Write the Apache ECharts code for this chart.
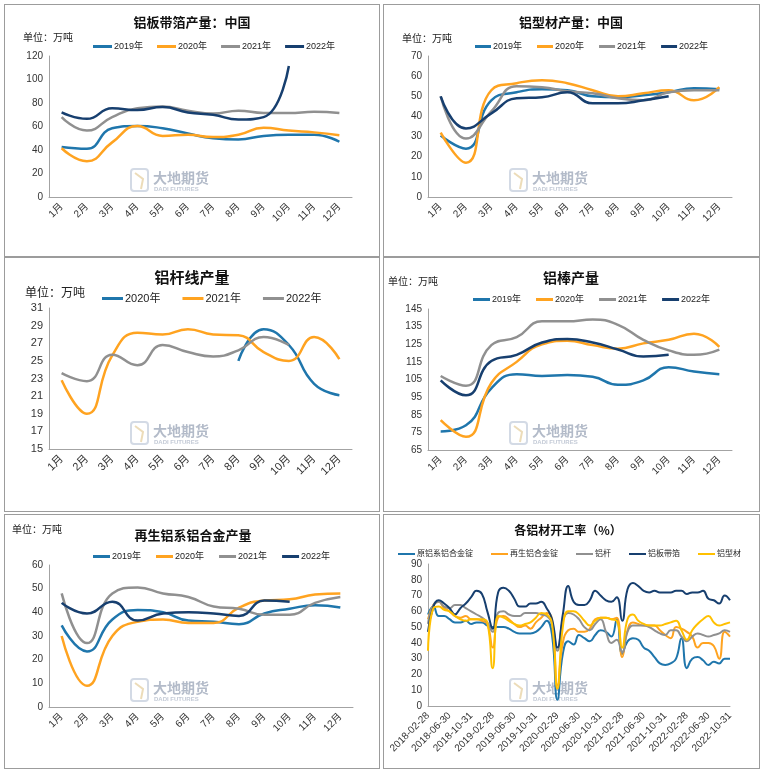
<!DOCTYPE html>
<html><head><meta charset="utf-8">
<script src="https://cdn.jsdelivr.net/npm/echarts@6/dist/echarts.min.js"></script>
<style>
html,body{margin:0;padding:0;background:#fff;}
body{width:763px;height:774px;position:relative;overflow:hidden;}
.p{position:absolute;box-sizing:border-box;border:1px solid #9c9c9c;}
</style></head><body>
<div id="p1" class="p" style="left:4px;top:4px;width:376px;height:253px"></div>
<div id="p2" class="p" style="left:383px;top:4px;width:377px;height:253px"></div>
<div id="p3" class="p" style="left:4px;top:257px;width:376px;height:255px"></div>
<div id="p4" class="p" style="left:383px;top:257px;width:377px;height:255px"></div>
<div id="p5" class="p" style="left:4px;top:514px;width:376px;height:255px"></div>
<div id="p6" class="p" style="left:383px;top:514px;width:377px;height:255px"></div>
<script>
// ---------- categories ----------
const months = ['1月','2月','3月','4月','5月','6月','7月','8月','9月','10月','11月','12月'];
const dates = ['2018-02-28','2018-03-31','2018-04-30','2018-05-31','2018-06-30','2018-07-31','2018-08-31','2018-09-30','2018-10-31','2018-11-30','2018-12-31',
'2019-01-31','2019-02-28','2019-03-31','2019-04-30','2019-05-31','2019-06-30','2019-07-31','2019-08-31','2019-09-30','2019-10-31','2019-11-30','2019-12-31',
'2020-01-31','2020-02-29','2020-03-31','2020-04-30','2020-05-31','2020-06-30','2020-07-31','2020-08-31','2020-09-30','2020-10-31','2020-11-30','2020-12-31',
'2021-01-31','2021-02-28','2021-03-31','2021-04-30','2021-05-31','2021-06-30','2021-07-31','2021-08-31','2021-09-30','2021-10-31','2021-11-30','2021-12-31',
'2022-01-31','2022-02-28','2022-03-31','2022-04-30','2022-05-31','2022-06-30','2022-07-31','2022-08-31','2022-09-30','2022-10-31'];

// ---------- 铝板带箔产量：中国 ----------
const plate2019 = [42.5,41,58.5,60.5,58.5,54,50,49,52,53,53,47];
const plate2020 = [41.5,30.5,46.5,60.5,52,53,51,53,59,56.5,55,52.5];
const plate2021 = [68,56.5,68,75.5,77,73.5,71,73.5,71.5,71.5,72.5,71.5];
const plate2022 = [72,66.5,75.5,74,76.5,72,70,66,68,111.5];

// ---------- 铝型材产量：中国 ----------
const profile2019 = [30.5,24,48,52,53.5,53,50,49.5,50.5,52,54,53.5];
const profile2020 = [32,17,53,56.5,58,56.5,53,50,51.5,53,48,54.5];
const profile2021 = [50,29,42.5,55,54.5,52.5,51.5,49,48,52,53,53];
const profile2022 = [50,34,41.5,49,49.5,52,46.5,46.5,48,50];

// ---------- 铝杆线产量 ----------
const rod2020 = [null,null,null,null,null,null,null,25,28.6,26.8,22.4,21.1];
const rod2021 = [22.8,19,25.6,28.2,28,28.6,28,27.9,26,25,27.7,25.2];
const rod2022 = [23.6,22.7,25.7,24.5,26.8,26,25.5,26.2,27.7,26.8];

// ---------- 铝棒产量 ----------
const bar2019 = [75.5,79,100,108,107,107.5,106.5,102,104.5,112,109.5,108];
const bar2020 = [82,72.5,103,115,125,127,124.5,122.5,125.5,127.5,131,123.5];
const bar2021 = [107,101.5,124.5,129,138,138,139,136,127.5,121.5,119,122];
const bar2022 = [104.5,96,115.5,119,126,128,126,122,118,119];

// ---------- 再生铝系铝合金产量 ----------
const sec2019 = [34.5,23.5,37,41,40,36.5,36,35,39.5,41.5,43,42];
const sec2020 = [30,9,30,36,37,35.5,35.5,42,45,45.5,47.5,48];
const sec2021 = [48,27,48,50.5,48,46.5,42.5,41.5,39,39,44,46.5];
const sec2022 = [44,39.5,44.5,36.5,39.5,40,39.5,38.5,45,44.5];

// ---------- 各铝材开工率（%） ----------
const rateAlloy = [58,63,57,57,55,53,53,54,52,53,53,51,50,50,50,49,47,46,46,46,47,50,54,45,4,33,41,39,45,43,41,45,48,47,44,55,33,41,43,42,37,35,31,27,26,27,30,43,24,30,31,29,26,28,27,30,30];
const rateSecondary = [55,64,66,62,60,57,56,57,55,55,54,52,37,56,57,55,52,50,51,49,53,56,59,55,13,40,48,49,47,47,49,55,56,56,55,56,31,48,53,52,51,51,51,48,45,43,50,49,47,44,37,40,40,38,30,47,44];
const rateRod = [52,64,66,63,62,64,64,62,60,58,56,53,47,59,60,58,57,57,59,59,59,58,57,52,35,54,59,58,55,50,48,52,55,47,40,42,34,47,51,51,51,50,48,46,45,48,48,44,41,44,46,45,44,45,46,48,47];
const ratePlate = [47,63,67,65,62,58,62,65,69,73,71,60,49,72,75,73,68,63,63,65,65,66,62,55,37,58,76,66,64,64,67,73,70,67,66,69,54,74,78,76,73,72,73,72,72,72,73,73,71,72,72,73,68,67,65,70,67];
const rateProfile = [35,62,63,61,60,57,55,54,55,55,55,53,24,57,56,54,52,51,52,53,56,59,58,52,11,50,60,60,58,54,51,54,56,56,55,54,37,55,58,54,52,51,51,51,52,53,54,48,42,48,52,55,57,53,51,52,53];

const yearNames4 = ['2019年','2020年','2021年','2022年'];
const yearNames3 = ['2020年','2021年','2022年'];
const rateNames = ['原铝系铝合金锭','再生铝合金锭','铝杆','铝板带箔','铝型材'];

// ---------- styling ----------
const LAT = "'Liberation Sans','Noto Sans CJK SC',sans-serif";
const CJK = "'Noto Sans CJK SC','Liberation Sans',sans-serif";
const C = {blue:'#1F76AC', orange:'#FFA320', gray:'#909090', navy:'#173F6F', yellow:'#FFC000'};
const AX = '#A3A3A3';
const LBL = '#333';

function watermark(){
  return [
    {type:'rect', silent:true, shape:{x:126,y:164,width:17,height:22,r:3}, style:{fill:'none',stroke:'#d3dae5',lineWidth:2}},
    {type:'polyline', silent:true, shape:{points:[[130,168],[138,174],[136,184]]}, style:{fill:'none',stroke:'#ecdcb9',lineWidth:2}},
    {type:'text', silent:true, x:148, y:173, style:{text:'大地期货', font:'bold 14px '+CJK, fill:'#b3bbc9', verticalAlign:'middle', align:'left'}},
    {type:'text', silent:true, x:149, y:184, style:{text:'DADI FUTURES', font:'bold 6px '+LAT, fill:'#c3cad6', verticalAlign:'middle', align:'left'}}
  ];
}

function lineSeries(name, data, color, w){
  return {name:name, type:'line', data:data, smooth:true, symbol:'none', connectNulls:false,
    lineStyle:{color:color, width:w}, itemStyle:{color:color}, emphasis:{disabled:true}};
}

function makePanel(id, cfg){
  const chart = echarts.init(document.getElementById(id), null, {renderer:'canvas'});
  const yAxis = {type:'value', min:cfg.ymin, max:cfg.ymax,
    axisLine:{show:true, lineStyle:{color:AX, width:1}}, axisTick:{show:false}, splitLine:{show:false},
    axisLabel:{color:LBL, fontSize:cfg.ySize, fontFamily:LAT, margin:6}};
  if (cfg.yCustom) { yAxis.axisLabel.customValues = cfg.yCustom; }
  else { yAxis.interval = cfg.yInt; }
  const g = [
    {type:'text', silent:true, x:cfg.titleX, y:cfg.titleY, style:{text:cfg.title, font:'bold '+cfg.titleSize+'px '+CJK, fill:'#111', align:'center', verticalAlign:'middle'}}
  ];
  if (cfg.unit) g.push({type:'text', silent:true, x:cfg.unit[0], y:cfg.unit[1], style:{text:'单位：万吨', font:cfg.unit[2]+'px '+CJK, fill:'#222', align:'left', verticalAlign:'middle'}});
  chart.setOption({
    animation:false,
    textStyle:{fontFamily:LAT},
    graphic: watermark().concat(g),
    legend:{left:cfg.legLeft, top:cfg.legTop, icon:'rect', itemWidth:cfg.legW, itemHeight:cfg.legH, itemGap:cfg.legGap, padding:0,
      textStyle:{fontSize:cfg.legSize, color:'#222', fontFamily:LAT, padding:[0,0,0,-3]},
      data:cfg.series.map(s=>({name:s.name, itemStyle:{color:s.color}}))},
    grid:{left:cfg.grid[0], top:cfg.grid[1], width:cfg.grid[2], height:cfg.grid[3], containLabel:false, outerBoundsMode:'none'},
    xAxis:{type:'category', data:cfg.cats, boundaryGap:cfg.bgap,
      axisLine:{show:true, lineStyle:{color:AX, width:1}}, axisTick:{show:false},
      axisLabel:{rotate:45, color:LBL, fontSize:cfg.xSize, fontFamily:LAT, margin:8, interval:cfg.xInt}},
    yAxis: yAxis,
    series: cfg.series.map(s=>lineSeries(s.name, s.data, s.color, cfg.lw))
  });
}

makePanel('p1', {title:'铝板带箔产量：中国', titleX:187, titleY:17, titleSize:13, unit:[18,32,10],
  legLeft:88, legTop:37, legW:19, legH:3, legGap:14, legSize:9,
  grid:[44,51,303,141], ymin:0, ymax:120, yInt:20, ySize:10, xSize:10, cats:months, bgap:true, xInt:0, lw:2.5,
  series:[{name:yearNames4[0],data:plate2019,color:C.blue},{name:yearNames4[1],data:plate2020,color:C.orange},
          {name:yearNames4[2],data:plate2021,color:C.gray},{name:yearNames4[3],data:plate2022,color:C.navy}]});

makePanel('p2', {title:'铝型材产量：中国', titleX:187, titleY:17, titleSize:13, unit:[18,33,10],
  legLeft:91, legTop:37, legW:16, legH:3, legGap:15, legSize:9,
  grid:[44,51,304,141], ymin:0, ymax:70, yInt:10, ySize:10, xSize:10, cats:months, bgap:true, xInt:0, lw:2.5,
  series:[{name:yearNames4[0],data:profile2019,color:C.blue},{name:yearNames4[1],data:profile2020,color:C.orange},
          {name:yearNames4[2],data:profile2021,color:C.gray},{name:yearNames4[3],data:profile2022,color:C.navy}]});

makePanel('p3', {title:'铝杆线产量', titleX:187, titleY:19, titleSize:15, unit:[20,34,12],
  legLeft:97, legTop:35, legW:21, legH:3, legGap:22, legSize:11,
  grid:[44,50,303,141], ymin:15, ymax:31, yCustom:[15,17,19,21,23,25,27,29,31], ySize:11, xSize:11, cats:months, bgap:true, xInt:0, lw:2.5,
  series:[{name:yearNames3[0],data:rod2020,color:C.blue},{name:yearNames3[1],data:rod2021,color:C.orange},
          {name:yearNames3[2],data:rod2022,color:C.gray}]});

makePanel('p4', {title:'铝棒产量', titleX:187, titleY:20, titleSize:14, unit:[4,23,10],
  legLeft:89, legTop:37, legW:17, legH:3, legGap:15, legSize:9,
  grid:[44,51,304,141], ymin:65, ymax:145, yCustom:[65,75,85,95,105,115,125,135,145], ySize:10, xSize:10, cats:months, bgap:true, xInt:0, lw:2.5,
  series:[{name:yearNames4[0],data:bar2019,color:C.blue},{name:yearNames4[1],data:bar2020,color:C.orange},
          {name:yearNames4[2],data:bar2021,color:C.gray},{name:yearNames4[3],data:bar2022,color:C.navy}]});

makePanel('p5', {title:'再生铝系铝合金产量', titleX:188, titleY:20, titleSize:13, unit:[7,14,10],
  legLeft:88, legTop:37, legW:17, legH:3, legGap:15, legSize:9,
  grid:[44,50,304,142], ymin:0, ymax:60, yInt:10, ySize:10, xSize:10, cats:months, bgap:true, xInt:0, lw:2.5,
  series:[{name:yearNames4[0],data:sec2019,color:C.blue},{name:yearNames4[1],data:sec2020,color:C.orange},
          {name:yearNames4[2],data:sec2021,color:C.gray},{name:yearNames4[3],data:sec2022,color:C.navy}]});

makePanel('p6', {title:'各铝材开工率（%）', titleX:184, titleY:15, titleSize:12, unit:null,
  legLeft:14, legTop:35, legW:17, legH:2, legGap:18, legSize:8,
  grid:[44,49,302,142], ymin:0, ymax:90, yInt:10, ySize:10, xSize:10, cats:dates, bgap:false, xInt:3, lw:2,
  series:[{name:rateNames[0],data:rateAlloy,color:C.blue},{name:rateNames[1],data:rateSecondary,color:C.orange},
          {name:rateNames[2],data:rateRod,color:C.gray},{name:rateNames[3],data:ratePlate,color:C.navy},
          {name:rateNames[4],data:rateProfile,color:C.yellow}]});
</script>
</body></html>
